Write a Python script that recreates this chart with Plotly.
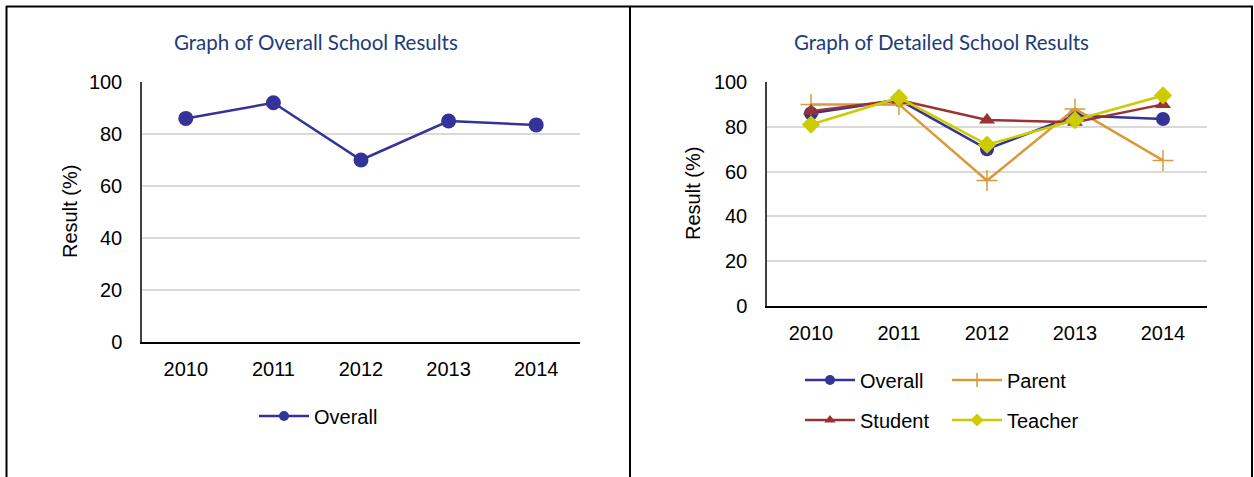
import plotly.graph_objects as go

# School survey results by year (%)
years = ["2010", "2011", "2012", "2013", "2014"]
overall = [86, 92, 70, 85, 83.5]
parent = [90, 90, 56, 88, 65]
student = [87, 92, 83, 82, 90]
teacher = [81, 93, 72, 83, 94]
y_ticks = [0, 20, 40, 60, 80, 100]

W, H = 1254, 477
TICK_FONT = dict(family="Liberation Sans, Arial, sans-serif", size=20, color="#000000")
TITLE_FONT = dict(family="Lato, Calibri, sans-serif", size=20.5, color="#203C78")

C_OVERALL = "#333399"
C_PARENT = "#D99A3C"
C_STUDENT = "#993333"
C_TEACHER = "#CCCC00"


def fx(px):
    return px / W


def fy(px):
    return 1 - px / H


fig = go.Figure()


def add_series(name, values, color, symbol, size, xa, ya, legend_id, group,
               marker_line=None):
    """Series on the chart plus a compact legend key with a smaller symbol."""
    mline = marker_line or dict(width=0)
    fig.add_trace(go.Scatter(
        x=years, y=values, name=name, mode="lines+markers",
        line=dict(color=color, width=2.5),
        marker=dict(symbol=symbol, size=size, color=color, line=mline),
        xaxis=xa, yaxis=ya, legend=legend_id, legendgroup=group,
        showlegend=False,
    ))
    fig.add_trace(go.Scatter(
        x=[None], y=[None], name=name, mode="lines+markers",
        line=dict(color=color, width=2.5),
        marker=dict(symbol=symbol, size=10, color=color, line=mline),
        xaxis=xa, yaxis=ya, legend=legend_id, legendgroup=group,
        showlegend=True, hoverinfo="skip",
    ))


# Left panel: overall results
add_series("Overall", overall, C_OVERALL, "circle", 15, "x", "y", "legend", "o1")

# Right panel: detailed results
add_series("Overall", overall, C_OVERALL, "circle", 14, "x2", "y2", "legend2", "o2")
add_series("Parent", parent, C_PARENT, "cross-thin", 15, "x2", "y2", "legend2", "p2",
           marker_line=dict(color=C_PARENT, width=1.5))
add_series("Student", student, C_STUDENT, "triangle-up", 14, "x2", "y2", "legend3", "s2")
add_series("Teacher", teacher, C_TEACHER, "diamond", 14, "x2", "y2", "legend3", "t2")

xaxis_common = dict(
    type="category", range=[-0.5, 4.5], showgrid=False, zeroline=False,
    showline=True, linecolor="#000000", linewidth=1.5, ticks="",
    tickfont=TICK_FONT, ticklabelstandoff=8, fixedrange=True,
)
yaxis_common = dict(
    range=[0, 100], tickvals=y_ticks, showgrid=True, gridcolor="#D9D9D9",
    gridwidth=1.5, zeroline=False, showline=True, linecolor="#404040",
    linewidth=1.5, ticks="", tickfont=TICK_FONT, ticklabelstandoff=14,
    fixedrange=True,
)

legend_common = dict(
    font=TICK_FONT, bgcolor="rgba(0,0,0,0)", borderwidth=0,
    orientation="h", xanchor="left", yanchor="middle",
    itemwidth=50, traceorder="normal",
)

fig.update_layout(
    width=W, height=H,
    margin=dict(l=0, r=0, t=0, b=0, autoexpand=False),
    paper_bgcolor="#FFFFFF", plot_bgcolor="#FFFFFF",
    xaxis=dict(xaxis_common, domain=[fx(142), fx(580)], anchor="y"),
    yaxis=dict(yaxis_common, domain=[fy(342), fy(82)], anchor="x"),
    xaxis2=dict(xaxis_common, domain=[fx(767), fx(1207)], anchor="y2"),
    yaxis2=dict(yaxis_common, domain=[fy(306), fy(82)], anchor="x2"),
    legend=dict(legend_common, x=fx(254), y=fy(416)),
    legend2=dict(legend_common, x=fx(800), y=fy(380),
                 entrywidth=82, entrywidthmode="pixels"),
    legend3=dict(legend_common, x=fx(800), y=fy(420),
                 entrywidth=82, entrywidthmode="pixels"),
    showlegend=True,
    annotations=[
        dict(text="Graph of Overall School Results", x=fx(316), y=fy(42),
             xref="paper", yref="paper", showarrow=False, font=TITLE_FONT,
             xanchor="center", yanchor="middle"),
        dict(text="Graph of Detailed School Results", x=fx(941), y=fy(42),
             xref="paper", yref="paper", showarrow=False, font=TITLE_FONT,
             xanchor="center", yanchor="middle"),
        dict(text="Result (%)", x=fx(70), y=fy(212), textangle=-90,
             xref="paper", yref="paper", showarrow=False, font=TICK_FONT,
             xanchor="center", yanchor="middle"),
        dict(text="Result (%)", x=fx(693), y=fy(194), textangle=-90,
             xref="paper", yref="paper", showarrow=False, font=TICK_FONT,
             xanchor="center", yanchor="middle"),
    ],
    shapes=[
        # frame around both panels and divider between them
        dict(type="line", xref="paper", yref="paper", x0=fx(6), x1=fx(1253),
             y0=fy(6.5), y1=fy(6.5), line=dict(color="#000000", width=2)),
        dict(type="line", xref="paper", yref="paper", x0=fx(6.5), x1=fx(6.5),
             y0=fy(6), y1=fy(477), line=dict(color="#000000", width=2)),
        dict(type="line", xref="paper", yref="paper", x0=fx(630), x1=fx(630),
             y0=fy(6), y1=fy(477), line=dict(color="#000000", width=2)),
        dict(type="line", xref="paper", yref="paper", x0=fx(1252), x1=fx(1252),
             y0=fy(6), y1=fy(477), line=dict(color="#000000", width=2)),
    ],
)

fig.write_html("out.html")
